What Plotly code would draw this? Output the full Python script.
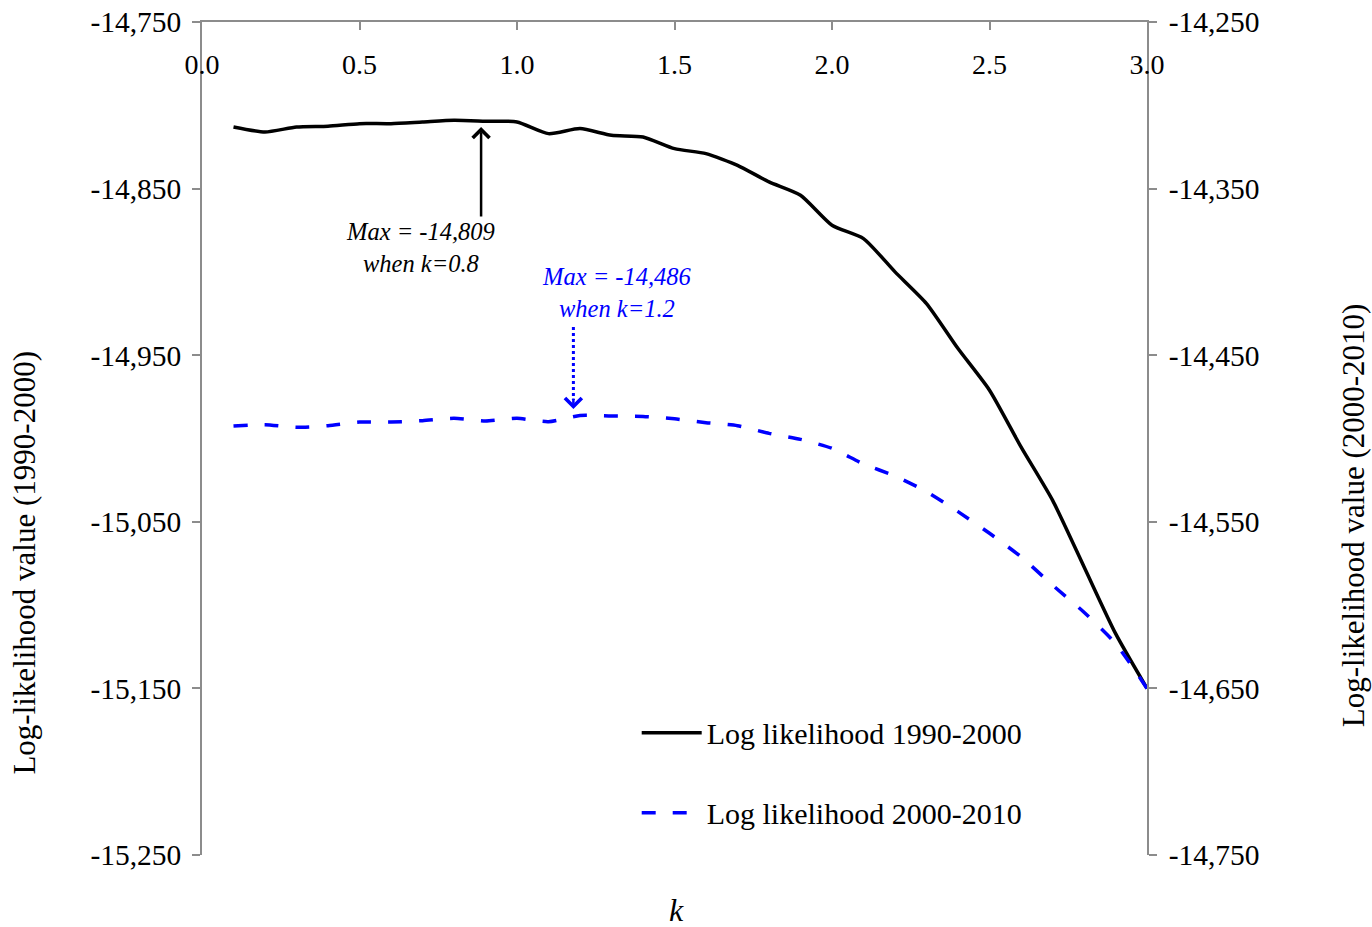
import plotly.graph_objects as go

# ---- data ----
k_values = [0.1, 0.2, 0.3, 0.4, 0.5, 0.6, 0.7, 0.8, 0.9, 1.0,
            1.1, 1.2, 1.3, 1.4, 1.5, 1.6, 1.7, 1.8, 1.9, 2.0,
            2.1, 2.2, 2.3, 2.4, 2.5, 2.6, 2.7, 2.8, 2.9, 3.0]

ll_1990_2000 = [-14813, -14816, -14813, -14812.5, -14811, -14811, -14810, -14809, -14809.5, -14810,
                -14817, -14814, -14818, -14819, -14826, -14829, -14836, -14846, -14854, -14872,
                -14880, -14900, -14919, -14946, -14971, -15005, -15037, -15077, -15117, -15150]

ll_2000_2010 = [-14492.5, -14491.7, -14493.3, -14492.3, -14490.1, -14490.1, -14489.3, -14487.9, -14489.5, -14487.9,
                -14489.9, -14486.2, -14486.5, -14486.8, -14488.2, -14490.5, -14492.3, -14496.9, -14500.5, -14505.9,
                -14515.3, -14522.5, -14531.9, -14543.9, -14556.9, -14571.0, -14588.0, -14604.3, -14623.0, -14650.0]

x_tickvals = [0.0, 0.5, 1.0, 1.5, 2.0, 2.5, 3.0]
x_ticktext = ["0.0", "0.5", "1.0", "1.5", "2.0", "2.5", "3.0"]
y1_tickvals = [-14750, -14850, -14950, -15050, -15150, -15250]
y1_ticktext = ["-14,750", "-14,850", "-14,950", "-15,050", "-15,150", "-15,250"]
y2_tickvals = [-14250, -14350, -14450, -14550, -14650, -14750]
y2_ticktext = ["-14,250", "-14,350", "-14,450", "-14,550", "-14,650", "-14,750"]

series_names = ["Log likelihood 1990-2000", "Log likelihood 2000-2010"]
max_labels = ["<i>Max = -14,809</i><br><i>when k=0.8</i>", "<i>Max = -14,486</i><br><i>when k=1.2</i>"]
y1_title = "Log-likelihood value (1990-2000)"
y2_title = "Log-likelihood value (2000-2010)"

FONT = "Liberation Serif, Times New Roman, serif"
AXIS_GREY = "#8c8c8c"
BLUE = "#0000FF"

fig = go.Figure()
fig.add_trace(go.Scatter(
    x=k_values, y=ll_1990_2000, name=series_names[0], mode="lines",
    line=dict(color="black", width=3.5, shape="spline", smoothing=0.6),
    yaxis="y", legendgroup="a"))
fig.add_trace(go.Scatter(
    x=k_values, y=ll_2000_2010, name=series_names[1], mode="lines",
    line=dict(color=BLUE, width=3.5, dash="14px,17px", shape="spline", smoothing=0.6),
    yaxis="y2", legendgroup="b"))

fig.update_layout(
    width=1372, height=927, autosize=False,
    margin=dict(l=202, r=225, t=22, b=72, pad=0),
    paper_bgcolor="white", plot_bgcolor="white",
    font=dict(family=FONT, size=28, color="black"),
    showlegend=True,
    legend=dict(x=0.46, y=0.178, xanchor="left", yanchor="top",
                font=dict(size=30, family=FONT, color="black"), tracegroupgap=38,
                bgcolor="rgba(0,0,0,0)", itemwidth=60),
    xaxis=dict(range=[0, 3], side="top", anchor="y", automargin=False,
               tickvals=x_tickvals, ticktext=x_ticktext,
               ticks="inside", ticklen=8, tickcolor=AXIS_GREY, tickwidth=1.5,
               ticklabelposition="inside", ticklabeloverflow="allow",
               ticklabelstandoff=27,
               showline=True, linecolor=AXIS_GREY, linewidth=1.5,
               showgrid=False, zeroline=False,
               tickfont=dict(size=28, family=FONT, color="black")),
    yaxis=dict(range=[-15250, -14750], automargin=False,
               tickvals=y1_tickvals, ticktext=y1_ticktext,
               ticks="outside", ticklen=8, tickcolor=AXIS_GREY, tickwidth=1.5,
               ticklabelstandoff=5,
               showline=True, linecolor=AXIS_GREY, linewidth=1.5,
               showgrid=False, zeroline=False,
               tickfont=dict(size=29.5, family=FONT, color="black")),
    yaxis2=dict(range=[-14750, -14250], overlaying="y", side="right", anchor="x",
                automargin=False,
                tickvals=y2_tickvals, ticktext=y2_ticktext,
                ticks="outside", ticklen=8, tickcolor=AXIS_GREY, tickwidth=1.5,
                ticklabelstandoff=6,
                showline=True, linecolor=AXIS_GREY, linewidth=1.5,
                showgrid=False, zeroline=False,
                tickfont=dict(size=29.5, family=FONT, color="black")),
)

annotations = [
    # axis titles
    dict(text=y1_title, xref="paper", yref="paper", x=-0.1873, y=0.351,
         textangle=-90, showarrow=False, font=dict(size=31, family=FONT, color="black"),
         xanchor="center", yanchor="middle"),
    dict(text=y2_title, xref="paper", yref="paper", x=1.2180, y=0.408,
         textangle=-90, showarrow=False, font=dict(size=31, family=FONT, color="black"),
         xanchor="center", yanchor="middle"),
    dict(text="<i>k</i>", xref="paper", yref="paper", x=0.5026, y=-0.066,
         showarrow=False, font=dict(size=32, family=FONT, color="black"),
         xanchor="center", yanchor="middle"),
    # max labels
    dict(text=max_labels[0], xref="x", yref="y", x=0.695, y=-14885.3,
         showarrow=False, font=dict(size=24.5, family=FONT, color="black"),
         xanchor="center", yanchor="middle"),
    dict(text=max_labels[1], xref="x", yref="y2", x=1.317, y=-14412.1,
         showarrow=False, font=dict(size=24.5, family=FONT, color=BLUE),
         xanchor="center", yanchor="middle"),
    # black arrow
    dict(text="", xref="x", yref="y", x=0.886, y=-14813.0,
         showarrow=True, axref="pixel", ayref="pixel", ax=0, ay=91,
         arrowhead=4, arrowsize=1.3, arrowwidth=2.5, arrowcolor="black"),
    # blue arrow head
    dict(text="", xref="x", yref="y2", x=1.179, y=-14482.3,
         showarrow=True, axref="pixel", ayref="pixel", ax=0, ay=-12,
         arrowhead=4, arrowsize=1.3, arrowwidth=2.5, arrowcolor=BLUE),
]
fig.update_layout(annotations=annotations)

fig.add_shape(type="line", xref="x", yref="y2", x0=1.179, x1=1.179,
              y0=-14433.1, y1=-14476.9,
              line=dict(color=BLUE, width=3, dash="dot"))

fig.write_html("out.html")
